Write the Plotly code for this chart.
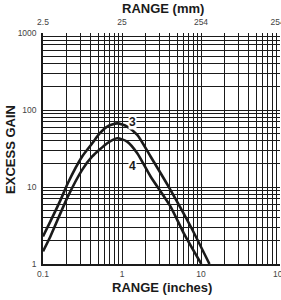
import math
import plotly.graph_objects as go

# Curve 3 (upper) and curve 4 (lower): range in inches vs excess gain
range3_in = [0.1, 0.124, 0.167, 0.206, 0.313, 0.42, 0.524, 0.65, 0.87, 1.16, 1.56, 2.3, 4.1, 7.4, 12.8]
gain3 = [2.28, 3.57, 6.8, 11.2, 24.9, 37, 50, 61, 67, 61, 47.5, 24.9, 9.2, 3.07, 1.0]
range4_in = [0.1, 0.124, 0.206, 0.313, 0.42, 0.65, 0.87, 1.16, 1.56, 2.3, 4.1, 6.06, 10.1]
gain4 = [1.46, 2.28, 7.5, 16.7, 24.9, 37, 43, 38.9, 27.5, 13.7, 5.6, 2.5, 1.0]

x_ticks = [0.1, 1, 10, 100]
x_tick_text = ["0.1", "1", "10", "100"]
mm_tick_text = ["2.5", "25", "254", "2540"]
y_ticks = [1, 10, 100, 1000]
y_tick_text = ["1", "10", "100", "1000"]
curve_labels = ["3", "4"]
label_pos_x = [1.35, 1.35]
label_pos_y = [69.5, 18.8]

FONT = "Liberation Sans, Arial, sans-serif"
INK = "#1a1a1a"
minor_x = [m * d for d in [0.1, 1, 10] for m in range(2, 10)]
minor_y = [m * d for d in [1, 10, 100] for m in range(2, 10)]

fig = go.Figure()
for xs, ys in [(range3_in, gain3), (range4_in, gain4)]:
    fig.add_trace(go.Scatter(x=xs, y=ys, mode="lines", line=dict(color=INK, width=2.6, shape="spline", smoothing=0.6),
                             showlegend=False, hoverinfo="skip"))
fig.add_trace(go.Scatter(x=[x_ticks[0], x_ticks[-1]], y=[y_ticks[0], y_ticks[0]], xaxis="x2", mode="markers",
                         marker=dict(opacity=0), showlegend=False, hoverinfo="skip"))

for t, lx, ly in zip(curve_labels, label_pos_x, label_pos_y):
    fig.add_annotation(x=math.log10(lx), y=math.log10(ly), xref="x", yref="y", text="<b>%s</b>" % t, showarrow=False,
                       font=dict(family=FONT, size=12, color=INK), bgcolor="white", borderpad=0,
                       xanchor="center", yanchor="middle")

title_font = dict(family=FONT, size=13, color=INK)
for tx, px, py, ang in [("RANGE (mm)", 0.505, 1.108, 0), ("RANGE (inches)", 0.50, -0.101, 0), ("EXCESS GAIN", -0.135, 0.494, -90)]:
    fig.add_annotation(x=px, y=py, xref="paper", yref="paper", text="<b>%s</b>" % tx, showarrow=False,
                       textangle=ang, font=title_font, xanchor="center", yanchor="middle")

tickfont = dict(family=FONT, size=8.5, color="#444")
axis_common = dict(type="log", showgrid=True, gridcolor=INK, gridwidth=1, zeroline=False, ticks="",
                   tickfont=tickfont, automargin=False, ticklabeloverflow="allow")

fig.update_layout(
    width=281, height=300,
    margin=dict(l=43, r=1, t=33, b=36),
    paper_bgcolor="white", plot_bgcolor="white",
    xaxis=dict(**axis_common, range=[-1, 2], tickvals=x_ticks, ticktext=x_tick_text, ticklabelstandoff=1,
               minor=dict(tickvals=minor_x, showgrid=True, gridcolor=INK, gridwidth=1),
               showline=True, linecolor=INK, linewidth=1.5),
    xaxis2=dict(type="log", range=[-1, 2], overlaying="x", side="top", tickvals=x_ticks, ticktext=mm_tick_text,
                showgrid=False, zeroline=False, ticks="", tickfont=tickfont, automargin=False, ticklabelstandoff=5,
                ticklabeloverflow="allow"),
    yaxis=dict(**axis_common, range=[0, 3], tickvals=y_ticks, ticktext=y_tick_text, ticklabelstandoff=3,
               minor=dict(tickvals=minor_y, showgrid=True, gridcolor=INK, gridwidth=1),
               showline=True, linecolor=INK, linewidth=1.5),
)

fig.write_html("out.html", config={"displayModeBar": False},
               post_script="document.body.style.margin='0';document.body.style.overflow='hidden';")
